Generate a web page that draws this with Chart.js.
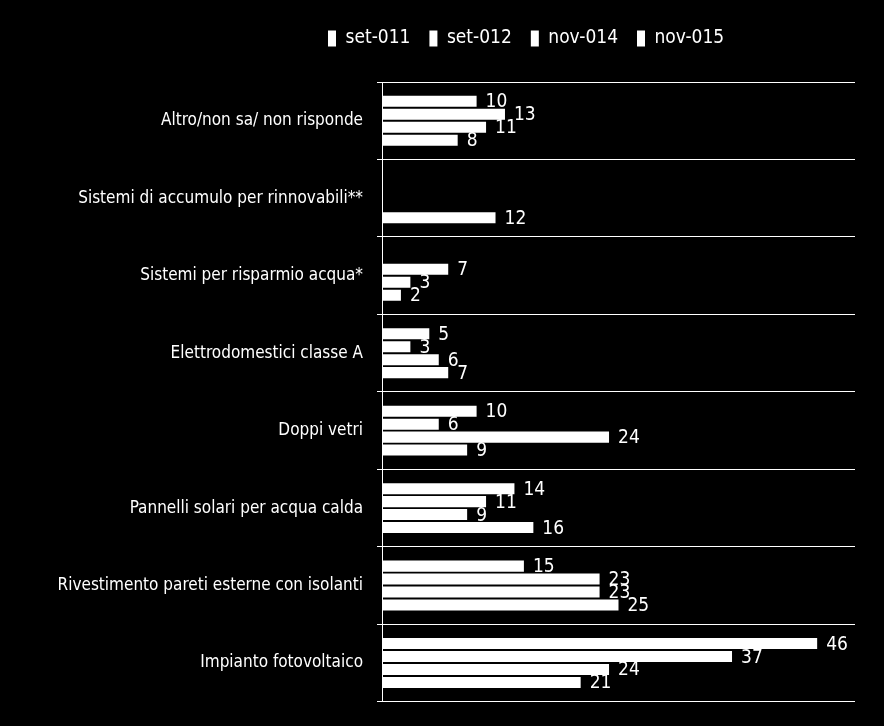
<!DOCTYPE html>
<html>
<head>
<meta charset="utf-8">
<title>Interventi per il risparmio energetico</title>
<script src="https://cdn.jsdelivr.net/npm/chart.js@4.4.0/dist/chart.umd.min.js"></script>
<style>
    html, body { margin: 0; padding: 0; background: #000; }
    #chart-wrap { width: 884px; height: 726px; }
</style>
</head>
<body>
<div id="chart-wrap"><canvas id="chart" width="884" height="726"></canvas></div>
<script>
// Categorie (dall'alto verso il basso)
const categories = [
    'Altro/non sa/ non risponde',
    'Sistemi di accumulo per rinnovabili**',
    'Sistemi per risparmio acqua*',
    'Elettrodomestici classe A',
    'Doppi vetri',
    'Pannelli solari per acqua calda',
    'Rivestimento pareti esterne con isolanti',
    'Impianto fotovoltaico'
];

// Serie (valori in %), null = domanda non presente nella rilevazione
const seriesNames = ['set-011', 'set-012', 'nov-014', 'nov-015'];
const set011 = [10, null, null, 5, 10, 14, 15, 46];
const set012 = [13, null, 7, 3, 6, 11, 23, 37];
const nov014 = [11, null, 3, 6, 24, 9, 23, 24];
const nov015 = [8, 12, 2, 7, 9, 16, 25, 21];

const xMin = 0;
const xMax = 50;

const FONT_FAMILY = "'DejaVu Sans Condensed', 'Liberation Sans Narrow', sans-serif";
Chart.defaults.font.family = FONT_FAMILY;
Chart.defaults.color = '#ffffff';

// Etichette dei valori a destra delle barre
const valueLabels = {
    id: 'valueLabels',
    afterDatasetsDraw(chart) {
        const ctx = chart.ctx;
        ctx.save();
        ctx.fillStyle = '#ffffff';
        ctx.font = '19px ' + FONT_FAMILY;
        ctx.textAlign = 'left';
        ctx.textBaseline = 'middle';
        chart.data.datasets.forEach((ds, i) => {
            const meta = chart.getDatasetMeta(i);
            meta.data.forEach((bar, j) => {
                const v = ds.data[j];
                if (v === null || v === undefined) return;
                ctx.fillText(String(v), bar.x + 9, bar.y + 1);
            });
        });
        ctx.restore();
    }
};

// Posizione e altezza della legenda
const legendPlacement = {
    id: 'legendPlacement',
    beforeLayout(chart) {
        const lg = chart.legend;
        if (lg && !lg._fixedHeight) {
            const fit = lg.fit;
            lg.fit = function () {
                fit.call(this);
                this.height = 72;
            };
            lg._fixedHeight = true;
        }
    },
    afterLayout(chart) {
        if (chart.legend) {
            chart.legend.left = 309;
        }
    }
};

const datasets = [set011, set012, nov014, nov015].map((values, i) => ({
    label: seriesNames[i],
    data: values,
    backgroundColor: '#ffffff',
    borderWidth: 0,
    categoryPercentage: 0.67,
    barPercentage: 0.85
}));

new Chart(document.getElementById('chart').getContext('2d'), {
    type: 'bar',
    data: {
        labels: categories,
        datasets: datasets
    },
    options: {
        indexAxis: 'y',
        responsive: false,
        devicePixelRatio: 1,
        animation: false,
        layout: {
            padding: { left: 0, right: 29, top: 10, bottom: 23 }
        },
        plugins: {
            legend: {
                position: 'top',
                align: 'start',
                labels: {
                    color: '#ffffff',
                    boxWidth: 8,
                    boxHeight: 16,
                    padding: 19,
                    font: { size: 19 }
                }
            },
            tooltip: { enabled: false }
        },
        scales: {
            x: {
                display: false,
                min: xMin,
                max: xMax
            },
            y: {
                afterFit(scale) {
                    scale.width = 382;
                },
                grid: {
                    color: '#ffffff',
                    lineWidth: 1,
                    tickLength: 5,
                    offset: true
                },
                border: {
                    color: '#ffffff',
                    width: 1
                },
                ticks: {
                    color: '#ffffff',
                    autoSkip: false,
                    padding: 14,
                    font: { size: 17 }
                }
            }
        }
    },
    plugins: [valueLabels, legendPlacement]
});
</script>
</body>
</html>
